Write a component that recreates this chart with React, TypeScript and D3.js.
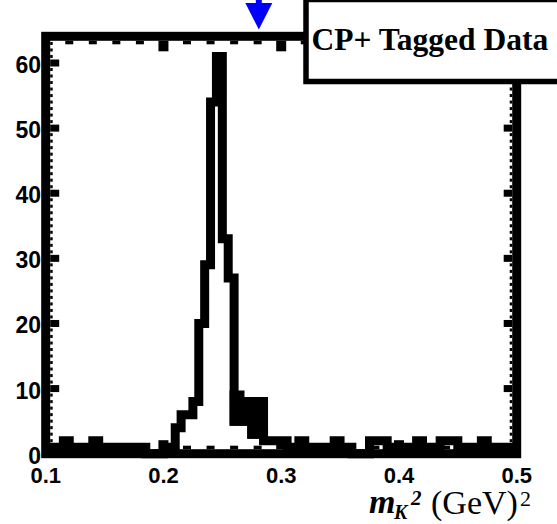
import React from 'react';
import * as d3 from 'd3';

// ---- data ----
const binStart = 0.1;
const binWidth = 0.005;
const counts = [
  1, 1, 1, 2, 1, 1, 1, 1, 2, 1,
  1, 1, 1, 1, 1, 1, 1, 0, 0, 0,
  1, 1, 4, 6, 6, 8, 20, 29, 54, 61,
  33, 27, 5, 5, 5, 3, 3, 2, 2, 2,
  2, 1, 1, 2, 1, 1, 1, 1, 1, 2,
  1, 1, 0, 0, 0, 2, 2, 2, 1, 1,
  1, 1, 1, 2, 1, 1, 1, 2, 2, 2,
  1, 1, 1, 1, 2, 1, 1, 1, 1, 1,
];
const shadeFirstBin = 32;
const shadeTop = [9, 8, 8, 8, 8];
const yTicks = [0, 10, 20, 30, 40, 50, 60];
const yTickLabels = ['0', '10', '20', '30', '40', '50', '60'];
const xTicks = [0.1, 0.2, 0.3, 0.4, 0.5];
const xTickLabels = ['0.1', '0.2', '0.3', '0.4', '0.5'];
const cutValue = 0.281;
const legendText = 'CP+ Tagged Data';

export default function App() {
  const W = 557;
  const H = 524;
  const x = d3.scaleLinear().domain([0.1, 0.5]).range([45.7, 516.7]);
  const y = d3.scaleLinear().domain([0, 64.1]).range([453.7, 36.3]);

  const pts: [number, number][] = counts.map((c, i) => [binStart + i * binWidth, c]);
  pts.push([binStart + counts.length * binWidth, counts[counts.length - 1]]);
  const line = d3
    .line<[number, number]>()
    .x((d) => x(d[0]))
    .y((d) => y(d[1]))
    .curve(d3.curveStepAfter);

  const shadePts = d3.range(shadeTop.length + 1).map((i) => {
    const bi = shadeFirstBin + Math.min(i, shadeTop.length - 1);
    return {
      e: binStart + (shadeFirstBin + i) * binWidth,
      lo: counts[bi],
      hi: shadeTop[Math.min(i, shadeTop.length - 1)],
    };
  });
  const area = d3
    .area<{ e: number; lo: number; hi: number }>()
    .x((d) => x(d.e))
    .y0((d) => y(d.lo))
    .y1((d) => y(d.hi))
    .curve(d3.curveStepAfter);

  const x0 = x(0.1);
  const x1 = x(0.5);
  const yTop = y(64.1);
  const yBot = y(0);
  const sw = 9;
  const inL = x0 + sw / 2;
  const inR = x1 - sw / 2;
  const inT = yTop + sw / 2;
  const inB = yBot - sw / 2;

  const yMinor = d3.range(1, 64).filter((v) => v % 10 !== 0);
  const xMinor = d3
    .range(6, 25)
    .map((k) => k * 0.02)
    .filter((v) => Math.abs(v * 10 - Math.round(v * 10)) > 1e-6);
  const xMajorInner = [0.2, 0.3, 0.4];

  const ax = x(cutValue);
  const sans = "'Liberation Sans', Arial, sans-serif";
  const serif = "'Liberation Serif', 'Times New Roman', serif";

  return (
    <svg
      width={W}
      height={H}
      style={{ position: 'absolute', left: 0, top: 0, background: '#fff' }}
    >
      <rect x={0} y={0} width={W} height={H} fill="#fff" />
      {/* shaded block */}
      <path d={area(shadePts) || ''} fill="#000" stroke="#000" strokeWidth={sw} strokeLinejoin="miter" />
      {/* histogram */}
      <path d={line(pts) || ''} fill="none" stroke="#000" strokeWidth={sw} strokeLinejoin="miter" />
      {/* frame */}
      <rect x={x0} y={yTop} width={x1 - x0} height={yBot - yTop} fill="none" stroke="#000" strokeWidth={sw} />
      {/* left / right ticks */}
      {yTicks.map((v) => (
        <g key={'yt' + v}>
          <rect x={inL} y={y(v) - 3.5} width={9} height={7} fill="#000" />
          <rect x={inR - 8.5} y={y(v) - 3.5} width={8.5} height={7} fill="#000" />
        </g>
      ))}
      {yMinor.map((v) => (
        <g key={'ym' + v}>
          <rect x={inL} y={y(v) - 1.5} width={2.5} height={3} fill="#000" />
          <rect x={inR - 2.5} y={y(v) - 1.5} width={2.5} height={3} fill="#000" />
        </g>
      ))}
      {/* top / bottom ticks */}
      {xMinor.map((v) => (
        <g key={'xm' + v}>
          <rect x={x(v) - 4} y={inT} width={8} height={3.5} fill="#000" />
          <rect x={x(v) - 4} y={inB - 3.5} width={8} height={3.5} fill="#000" />
        </g>
      ))}
      {xMajorInner.map((v) => (
        <g key={'xM' + v}>
          <rect x={x(v) - 5} y={inT} width={10} height={10.5} fill="#000" />
          <rect x={x(v) - 5} y={inB - 9} width={10} height={9} fill="#000" />
        </g>
      ))}
      {/* y tick labels */}
      {yTicks.map((v, i) => (
        <text
          key={'yl' + v}
          x={41}
          y={y(v) + 10}
          textAnchor="end"
          fontFamily={sans}
          fontWeight="bold"
          fontSize={23}
          fill="#000"
        >
          {yTickLabels[i]}
        </text>
      ))}
      {/* x tick labels */}
      {xTicks.map((v, i) => (
        <text
          key={'xl' + v}
          x={x(v)}
          y={483}
          textAnchor="middle"
          fontFamily={sans}
          fontWeight="bold"
          fontSize={22}
          fill="#000"
        >
          {xTickLabels[i]}
        </text>
      ))}
      {/* axis title */}
      <text x={369} y={513} fontFamily={serif} fontWeight="bold" fontStyle="italic" fontSize={34} fill="#000">
        m
      </text>
      <text x={394} y={518.5} fontFamily={serif} fontWeight="bold" fontStyle="italic" fontSize={20} fill="#000">
        K
      </text>
      <text x={411} y={505} fontFamily={serif} fontWeight="bold" fontStyle="italic" fontSize={21} fill="#000">
        2
      </text>
      <text x={431} y={514} fontFamily={serif} fontSize={34} fill="#000">
        (GeV)
      </text>
      <text x={520} y={506} fontFamily={serif} fontSize={22} fill="#000">
        2
      </text>
      {/* legend box */}
      <rect x={306} y={-0.5} width={265} height={82} fill="#fff" stroke="#000" strokeWidth={5.5} />
      <text x={311.5} y={50} fontFamily={serif} fontWeight="bold" fontSize={31.5} fill="#000">
        {legendText}
      </text>
      {/* cut arrow */}
      <rect x={ax - 3} y={-2} width={6} height={6} fill="#0000ff" />
      <path d={`M${ax - 13.5},3 L${ax + 13.5},3 L${ax},29.5 Z`} fill="#0000ff" />
    </svg>
  );
}
